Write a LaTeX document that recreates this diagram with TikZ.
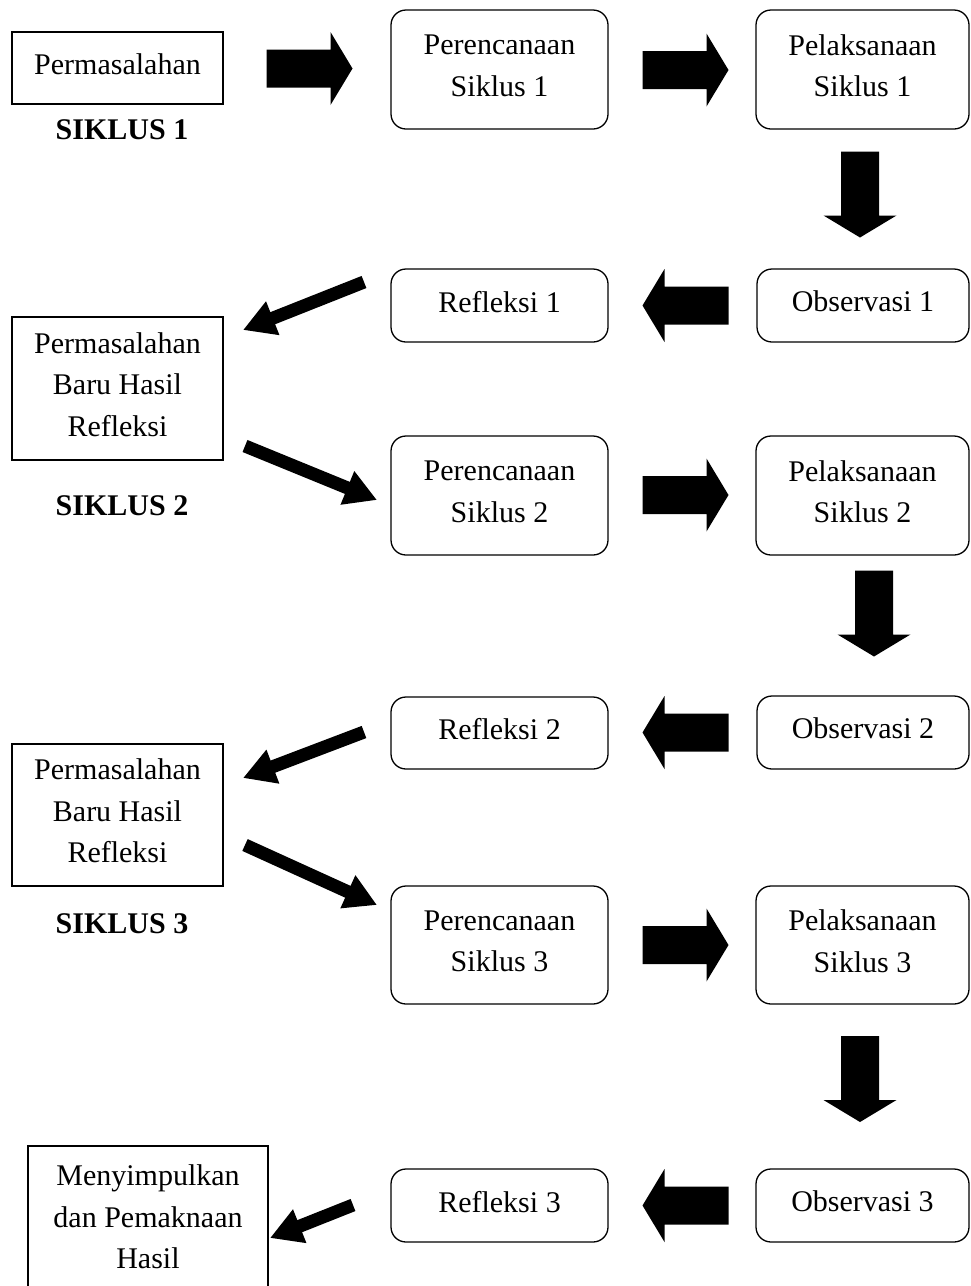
\documentclass[tikz,border=0pt]{standalone}
\usepackage{fontspec}
\setmainfont{Liberation Serif}
\usetikzlibrary{arrows.meta}
\tikzset{
  base/.style={draw=black, line width=1.3pt, inner sep=0pt, align=center,
    text depth=8pt, font=\fontsize{30}{41.5}\selectfont},
  sqbox/.style={base},
  rbox/.style={base, rounded corners=15pt},
  lbl/.style={font=\fontsize{30}{36}\selectfont\bfseries, inner sep=0pt},
  diag/.style={line width=13pt, -{Triangle[length=32pt,width=34pt]}},
  blockarrow/.pic={\fill (-43,-19) -- (21,-19) -- (21,-36.5) -- (43,0) -- (21,36.5) -- (21,19) -- (-43,19) -- cycle;}
}
\begin{document}
\begin{tikzpicture}[x=1pt,y=-1pt]
\useasboundingbox (0,0) rectangle (970,1286);
% row 1
\node[sqbox, minimum width=211pt, minimum height=72pt] (p0) at (117.5,68) {Permasalahan};
\node[lbl] (s1) at (122,130) {SIKLUS 1};
\node[rbox, minimum width=217pt, minimum height=119pt] (rc1) at (499.5,69.5) {Perencanaan\\Siklus 1};
\node[rbox, minimum width=213pt, minimum height=119pt] (pl1) at (862.5,69.5) {Pelaksanaan\\Siklus 1};
\node[rbox, minimum width=212pt, minimum height=73pt] (ob1) at (863,305.5) {Observasi 1};
\node[rbox, minimum width=217pt, minimum height=73pt] (rf1) at (499.5,305.5) {Refleksi 1};
\node[sqbox, minimum width=211pt, minimum height=143pt] (pb1) at (117.5,388.5) {Permasalahan\\Baru Hasil\\Refleksi};
\node[lbl] (s2) at (122,506) {SIKLUS 2};
% row 2
\node[rbox, minimum width=217pt, minimum height=119pt] (rc2) at (499.5,495.5) {Perencanaan\\Siklus 2};
\node[rbox, minimum width=213pt, minimum height=119pt] (pl2) at (862.5,495.5) {Pelaksanaan\\Siklus 2};
\node[rbox, minimum width=212pt, minimum height=73pt] (ob2) at (863,732.5) {Observasi 2};
\node[rbox, minimum width=217pt, minimum height=72pt] (rf2) at (499.5,733) {Refleksi 2};
\node[sqbox, minimum width=211pt, minimum height=142pt] (pb2) at (117.5,815) {Permasalahan\\Baru Hasil\\Refleksi};
\node[lbl] (s3) at (122,924) {SIKLUS 3};
% row 3
\node[rbox, minimum width=217pt, minimum height=118pt] (rc3) at (499.5,945) {Perencanaan\\Siklus 3};
\node[rbox, minimum width=213pt, minimum height=118pt] (pl3) at (862.5,945) {Pelaksanaan\\Siklus 3};
\node[rbox, minimum width=213pt, minimum height=73pt] (ob3) at (862.5,1205.5) {Observasi 3};
\node[rbox, minimum width=217pt, minimum height=73pt] (rf3) at (499.5,1205.5) {Refleksi 3};
\node[sqbox, text depth=0pt, minimum width=240pt, minimum height=142pt] (mz) at (148,1217) {Menyimpulkan\\dan Pemaknaan\\Hasil};
% block arrows
\pic at (309.5,68.5) {blockarrow};
\pic at (685.5,70) {blockarrow};
\pic[rotate=-90] at (860,194.5) {blockarrow};
\pic[rotate=180] at (685.5,305.5) {blockarrow};
\pic at (685.5,495) {blockarrow};
\pic[rotate=-90] at (874,613.5) {blockarrow};
\pic[rotate=180] at (685.5,732.5) {blockarrow};
\pic at (685.5,945) {blockarrow};
\pic[rotate=-90] at (860,1079) {blockarrow};
\pic[rotate=180] at (685.5,1205.5) {blockarrow};
% diagonal arrows
\coordinate (d1a) at (364,282); \coordinate (d1b) at (243,330);
\coordinate (d2a) at (245,446); \coordinate (d2b) at (377,500);
\coordinate (d3a) at (364,732); \coordinate (d3b) at (243,778);
\coordinate (d4a) at (245,845); \coordinate (d4b) at (377,905);
\coordinate (d5a) at (353,1205); \coordinate (d5b) at (270,1238);
\draw[diag] (d1a) -- (d1b);
\draw[diag] (d2a) -- (d2b);
\draw[diag] (d3a) -- (d3b);
\draw[diag] (d4a) -- (d4b);
\draw[diag] (d5a) -- (d5b);
\end{tikzpicture}
\end{document}
